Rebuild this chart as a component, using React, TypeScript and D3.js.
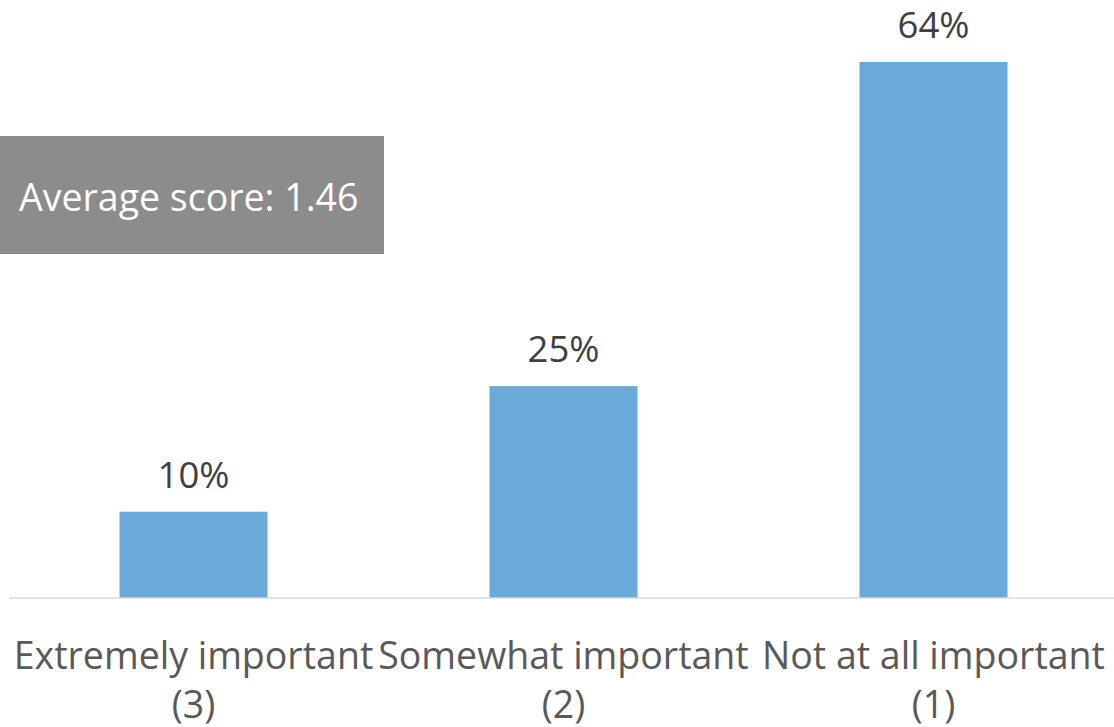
import React from "react";
import * as d3 from "d3";

const categories = ["Extremely important", "Somewhat important", "Not at all important"];
const scoreLabels = ["(3)", "(2)", "(1)"];
const values = [10.3, 25.3, 64];
const valueLabels = ["10%", "25%", "64%"];
const averageText = "Average score: 1.46";

const W = 1114;
const H = 727;
const FONT = "'Open Sans', sans-serif";

export default function App() {
  const x = d3.scaleBand<string>().domain(categories).range([8.5, 1118.5]).paddingInner(0.6).paddingOuter(0.3);
  const y = d3.scaleLinear().domain([0, 70]).range([598, 11.75]);
  return (
    <svg width={W} height={H} style={{ position: "absolute", left: 0, top: 0, background: "#fff" }}>
      <rect x={0} y={136} width={384} height={118} fill="#8c8c8c" />
      <text x={19} y={211} fill="#ffffff" fontFamily={FONT} fontSize={37.5}>{averageText}</text>
      {categories.map((c, i) => (
        <g key={c}>
          <rect x={x(c)} y={y(values[i])} width={x.bandwidth()} height={y(0) - y(values[i])} fill="#6aaadb" />
          <text x={(x(c) as number) + x.bandwidth() / 2} y={y(values[i]) - 24} textAnchor="middle" fill="#404040" fontFamily={FONT} fontSize={36.5}>{valueLabels[i]}</text>
          <text x={(x(c) as number) + x.bandwidth() / 2} y={669} textAnchor="middle" fill="#595959" fontFamily={FONT} fontSize={37.5}>{c}</text>
          <text x={(x(c) as number) + x.bandwidth() / 2} y={718} textAnchor="middle" fill="#595959" fontFamily={FONT} fontSize={37.5}>{scoreLabels[i]}</text>
        </g>
      ))}
      <line x1={9} x2={1114} y1={y(0)} y2={y(0)} stroke="#d9d9d9" strokeWidth={1.5} />
    </svg>
  );
}
